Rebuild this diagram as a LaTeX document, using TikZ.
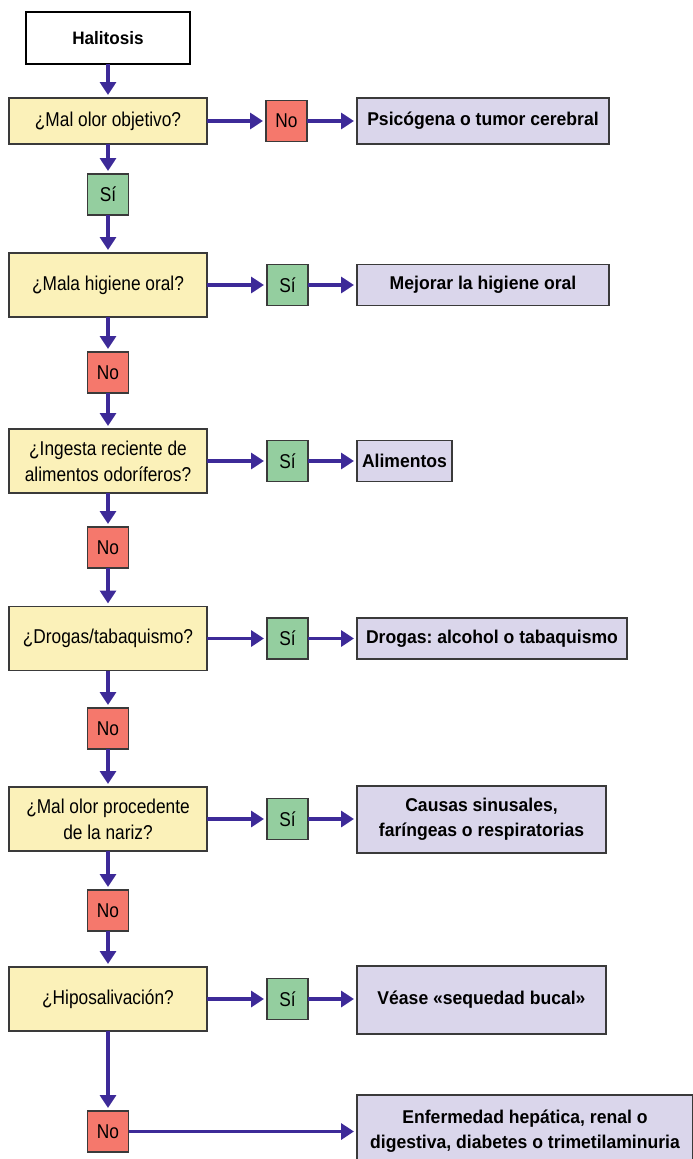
\documentclass[tikz,border=0pt]{standalone}
\usepackage{fontspec}
\setmainfont{Liberation Sans}
\newfontfamily\qfont[FakeStretch=0.865]{Liberation Sans}
\newfontfamily\rfont[FakeStretch=0.95]{Liberation Sans}
\usetikzlibrary{arrows.meta}
\frenchspacing

\definecolor{qfill}{HTML}{FBF1B9}
\definecolor{yesfill}{HTML}{94CE9F}
\definecolor{nofill}{HTML}{F5786C}
\definecolor{resfill}{HTML}{DAD6EB}
\definecolor{flow}{HTML}{3D2A98}
\definecolor{edge}{HTML}{3A3A3A}

\tikzset{
  every node/.style={inner sep=0pt, outer sep=0pt, align=center},
  startbox/.style={draw=black, line width=1.4pt, fill=white,
    minimum width=164pt, minimum height=52pt,
    font=\rfont\bfseries\fontsize{18}{24}\selectfont},
  qbox/.style={draw=edge, line width=1.3pt, fill=qfill,
    minimum width=198pt, minimum height=64pt,
    font=\qfont\fontsize{20}{26}\selectfont},
  yesbox/.style={draw=edge, line width=1.3pt, fill=yesfill,
    minimum width=41pt, minimum height=41pt,
    font=\qfont\fontsize{20}{24}\selectfont},
  nobox/.style={yesbox, fill=nofill},
  resbox/.style={draw=edge, line width=1.3pt, fill=resfill,
    minimum height=41pt,
    font=\rfont\bfseries\fontsize{18.5}{25}\selectfont},
  flowarrow/.style={draw=flow, line width=3.6pt,
    -{Triangle[length=13pt,width=16pt]}, shorten >=3pt}
}

\begin{document}
\begin{tikzpicture}[x=1pt,y=-1pt]
\useasboundingbox (0,0) rectangle (693,1159);
\clip (0,0) rectangle (693,1159);

% main column
\node[startbox] (start) at (108,38) {Halitosis};
\node[qbox, minimum height=46pt] (q1) at (108,121) {¿Mal olor objetivo?};
\node[yesbox] (c1) at (108,194.5) {Sí};
\node[qbox] (q2) at (108,285) {¿Mala higiene oral?};
\node[nobox] (c2) at (108,372.5) {No};
\node[qbox] (q3) at (108,461) {¿Ingesta reciente de\\alimentos odoríferos?};
\node[nobox] (c3) at (108,547.5) {No};
\node[qbox] (q4) at (108,638.5) {¿Drogas/tabaquismo?};
\node[nobox] (c4) at (108,728.5) {No};
\node[qbox] (q5) at (108,819) {¿Mal olor procedente\\de la nariz?};
\node[nobox] (c5) at (108,910.5) {No};
\node[qbox] (q6) at (108,999) {¿Hiposalivación?};
\node[nobox] (c6) at (108,1131.5) {No};

% answer column
\node[nobox] (a1) at (286.5,121) {No};
\node[yesbox] (a2) at (287.5,285) {Sí};
\node[yesbox] (a3) at (287.5,461) {Sí};
\node[yesbox] (a4) at (287.5,638.5) {Sí};
\node[yesbox] (a5) at (287.5,819) {Sí};
\node[yesbox] (a6) at (287.5,999) {Sí};

% outcomes
\node[resbox, minimum width=252pt, minimum height=46pt, anchor=west] (r1) at (357,121) {Psicógena o tumor cerebral};
\node[resbox, minimum width=252pt, anchor=west] (r2) at (357,285) {Mejorar la higiene oral};
\node[resbox, minimum width=95pt, anchor=west] (r3) at (357,461) {Alimentos};
\node[resbox, minimum width=270pt, anchor=west] (r4) at (357,638.5) {Drogas: alcohol o tabaquismo};
\node[resbox, minimum width=249pt, minimum height=67pt, anchor=west] (r5) at (357,819.5) {Causas sinusales,\\faríngeas o respiratorias};
\node[resbox, minimum width=249pt, minimum height=68pt, anchor=west] (r6) at (357,1000) {Véase «sequedad bucal»};
\node[resbox, minimum width=336pt, minimum height=72pt, anchor=west] (r7) at (357,1131) {Enfermedad hepática, renal o\\digestiva, diabetes o trimetilaminuria};

% vertical flow
\draw[flowarrow] (start) -- (q1);
\draw[flowarrow] (q1) -- (c1);
\draw[flowarrow] (c1) -- (q2);
\draw[flowarrow] (q2) -- (c2);
\draw[flowarrow] (c2) -- (q3);
\draw[flowarrow] (q3) -- (c3);
\draw[flowarrow] (c3) -- (q4);
\draw[flowarrow] (q4) -- (c4);
\draw[flowarrow] (c4) -- (q5);
\draw[flowarrow] (q5) -- (c5);
\draw[flowarrow] (c5) -- (q6);
\draw[flowarrow] (q6) -- (c6);

% horizontal flow
\draw[flowarrow] (q1) -- (a1);
\draw[flowarrow] (a1) -- (r1);
\draw[flowarrow] (q2) -- (a2);
\draw[flowarrow] (a2) -- (r2);
\draw[flowarrow] (q3) -- (a3);
\draw[flowarrow] (a3) -- (r3);
\draw[flowarrow] (q4) -- (a4);
\draw[flowarrow] (a4) -- (r4);
\draw[flowarrow] (q5) -- (a5);
\draw[flowarrow] (a5) -- (r5.west |- a5);
\draw[flowarrow] (q6) -- (a6);
\draw[flowarrow] (a6) -- (r6.west |- a6);
\draw[flowarrow] (c6) -- (r7.west |- c6);
\end{tikzpicture}
\end{document}
